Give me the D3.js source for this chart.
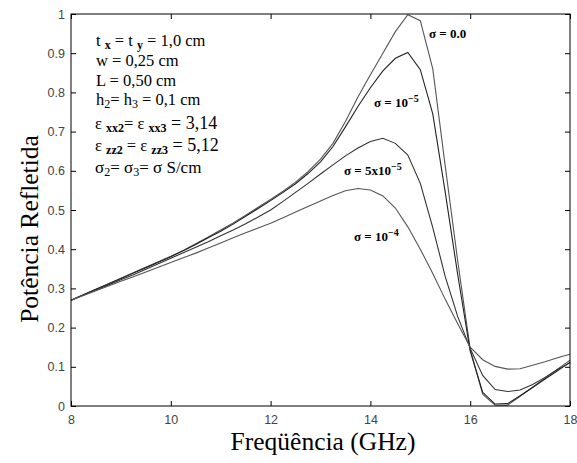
<!DOCTYPE html>
<html><head><meta charset="utf-8">
<script src="https://cdn.jsdelivr.net/npm/d3@7"></script>
<style>
body{margin:0;background:#fff}svg{display:block}
.serif{font-family:"Liberation Serif","Times New Roman",Times,"DejaVu Serif",serif}
.sans{font-family:"Liberation Sans",Arial,Helvetica,sans-serif}
</style>
</head><body>
<svg id="c" width="577" height="463"></svg>
<script>
const freq = [8, 8.25, 8.5, 8.75, 9, 9.25, 9.5, 9.75, 10, 10.25, 10.5, 10.75, 11, 11.25, 11.5, 11.75, 12, 12.25, 12.5, 12.75, 13, 13.25, 13.5, 13.75, 14, 14.25, 14.5, 14.75, 15, 15.25, 15.5, 15.75, 16, 16.25, 16.5, 16.75, 17, 17.25, 17.5, 17.75, 18];
const sigma0 = [0.270, 0.284, 0.298, 0.312, 0.326, 0.340, 0.354, 0.368, 0.382, 0.397, 0.414, 0.431, 0.449, 0.467, 0.487, 0.507, 0.527, 0.548, 0.571, 0.598, 0.630, 0.670, 0.726, 0.788, 0.845, 0.900, 0.955, 0.998, 0.983, 0.860, 0.612, 0.370, 0.145, 0.030, 0.002, 0.002, 0.025, 0.048, 0.071, 0.094, 0.117];
const sigma1e5 = [0.270, 0.284, 0.298, 0.311, 0.325, 0.339, 0.353, 0.367, 0.381, 0.396, 0.412, 0.429, 0.446, 0.464, 0.484, 0.504, 0.524, 0.545, 0.567, 0.593, 0.623, 0.662, 0.712, 0.764, 0.812, 0.855, 0.887, 0.902, 0.858, 0.745, 0.545, 0.335, 0.140, 0.035, 0.005, 0.006, 0.026, 0.047, 0.069, 0.090, 0.112];
const sigma5e5 = [0.270, 0.283, 0.296, 0.309, 0.322, 0.335, 0.349, 0.363, 0.377, 0.391, 0.405, 0.419, 0.434, 0.449, 0.465, 0.482, 0.500, 0.522, 0.545, 0.568, 0.592, 0.615, 0.638, 0.658, 0.675, 0.683, 0.670, 0.640, 0.568, 0.455, 0.330, 0.228, 0.147, 0.078, 0.042, 0.037, 0.041, 0.055, 0.073, 0.093, 0.110];
const sigma1e4 = [0.270, 0.282, 0.294, 0.306, 0.318, 0.330, 0.342, 0.354, 0.366, 0.378, 0.390, 0.403, 0.416, 0.429, 0.442, 0.454, 0.466, 0.480, 0.495, 0.509, 0.523, 0.537, 0.549, 0.555, 0.551, 0.536, 0.505, 0.457, 0.400, 0.338, 0.272, 0.210, 0.150, 0.118, 0.101, 0.094, 0.095, 0.104, 0.113, 0.123, 0.132];
const seriesColors = ["#555", "#222", "#333", "#555"];
const xTicks = [8, 10, 12, 14, 16, 18];
const xTickLabels = ["8", "10", "12", "14", "16", "18"];
const yTicks = [0, 0.1, 0.2, 0.3, 0.4, 0.5, 0.6, 0.7, 0.8, 0.9, 1];
const yTickLabels = ["0", "0.1", "0.2", "0.3", "0.4", "0.5", "0.6", "0.7", "0.8", "0.9", "1"];

const series = [sigma0, sigma1e5, sigma5e5, sigma1e4];

const svg = d3.select("#c");
const L = 71, R = 570, T = 14, B = 406;
const x = d3.scaleLinear().domain([8, 18]).range([L, R]);
const y = d3.scaleLinear().domain([0, 1]).range([B, T]);

const line = d3.line().x((d, i) => x(freq[i])).y(d => y(d));
series.forEach((s, k) => {
  svg.append("path").attr("d", line(s)).attr("fill", "none")
    .attr("stroke", seriesColors[k]).attr("stroke-width", 1.1);
});

function styleAxis(g) {
  g.attr("font-family", null).attr("font-size", null);
  g.selectAll(".domain").remove();
  g.selectAll("line").attr("stroke", "#000");
  g.selectAll("text").attr("class", "sans").style("font-size", "12.5px").attr("fill", "#444");
}
svg.append("g").attr("transform", `translate(0,${B})`)
  .call(d3.axisBottom(x).tickValues(xTicks).tickFormat((d, i) => xTickLabels[i]).tickSize(-5).tickPadding(9))
  .call(styleAxis);
svg.append("g").attr("transform", `translate(0,${T})`)
  .call(d3.axisTop(x).tickValues(xTicks).tickFormat("").tickSize(-5))
  .call(styleAxis);
svg.append("g").attr("transform", `translate(${L},0)`)
  .call(d3.axisLeft(y).tickValues(yTicks).tickFormat((d, i) => yTickLabels[i]).tickSize(-5).tickPadding(6))
  .call(styleAxis);
svg.append("g").attr("transform", `translate(${R},0)`)
  .call(d3.axisRight(y).tickValues(yTicks).tickFormat("").tickSize(-5))
  .call(styleAxis);

svg.append("rect").attr("x", L).attr("y", T).attr("width", R - L).attr("height", B - T)
  .attr("fill", "none").attr("stroke", "#000").attr("stroke-width", 1);

svg.append("text").attr("class", "serif").attr("x", 323).attr("y", 450).attr("text-anchor", "middle")
  .style("font-size", "25.5px").text("Freqüência (GHz)");
svg.append("text").attr("class", "serif").attr("transform", "translate(38,229) rotate(-90)").attr("text-anchor", "middle")
  .style("font-size", "25.5px").text("Potência Refletida");

// annotation block
function rich(xp, yp, parts, size) {
  const t = svg.append("text").attr("class", "serif").attr("x", xp).attr("y", yp)
    .style("font-size", (size || 16.5) + "px").attr("fill", "#000");
  let shift = 0;
  parts.forEach(p => {
    const ts = t.append("tspan").text(p.t);
    const want = p.sub ? 3 : (p.sup ? -6 : 0);
    ts.attr("dy", want - shift);
    shift = want;
    if (p.sub || p.sup) ts.style("font-size", (p.fs || 12) + "px").style("font-weight", p.bold ? "bold" : "normal");
    if (p.fs && !p.sub && !p.sup) ts.style("font-size", p.fs + "px");
  });
  return t;
}
rich(96, 46, [{t: "t "}, {t: "x", sub: 1, bold: 1}, {t: " = t "}, {t: "y", sub: 1, bold: 1}, {t: " = 1,0 cm"}]);
rich(96, 66, [{t: "w = 0,25  cm"}]);
rich(96, 86, [{t: "L = 0,50  cm"}]);
rich(96, 105, [{t: "h"}, {t: "2", sub: 1}, {t: "= h"}, {t: "3", sub: 1}, {t: " = 0,1 cm"}]);
rich(95, 129, [{t: "ε "}, {t: "xx2", sub: 1, bold: 1}, {t: "= ε "}, {t: "xx3", sub: 1, bold: 1}, {t: " = 3,14", fs: 18}], 16.5);
rich(95, 151, [{t: "ε "}, {t: "zz2", sub: 1, bold: 1}, {t: " = ε "}, {t: "zz3", sub: 1, bold: 1}, {t: " = 5,12", fs: 18}], 16.5);
rich(95, 173, [{t: "σ"}, {t: "2", sub: 1}, {t: "= σ"}, {t: "3", sub: 1}, {t: "= σ  S/cm"}], 17);

// curve labels
function clabel(xp, yp, main, sup) {
  const t = svg.append("text").attr("class", "serif").attr("x", xp).attr("y", yp)
    .style("font-size", "13px").style("font-weight", "bold");
  t.append("tspan").text(main);
  if (sup) t.append("tspan").attr("dy", -5).style("font-size", "10px").text(sup);
  return t;
}
clabel(429, 38, "σ = 0.0");
clabel(374, 107, "σ = 10", "−5");
clabel(344, 175, "σ = 5x10", "−5");
clabel(354, 241, "σ = 10", "−4");
</script>
</body></html>
